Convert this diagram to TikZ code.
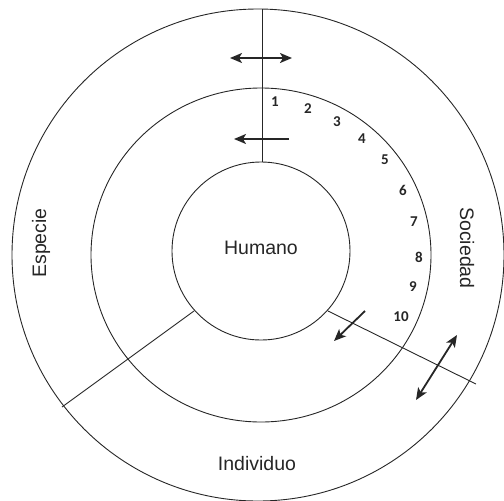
\documentclass[tikz,border=0pt]{standalone}
\usepackage{fontspec}
\setmainfont{Liberation Sans}
\newfontfamily\numfont{Carlito}
\usetikzlibrary{arrows.meta,positioning}
\tikzset{
  ring/.style={draw=black!85, line width=0.9pt},
  divider/.style={draw=black!85, line width=0.9pt},
  flow/.style={-{Stealth[length=12pt,width=10pt,inset=3pt]}, line width=1.8pt, black!85},
  biflow/.style={{Stealth[length=12pt,width=10pt,inset=3pt]}-{Stealth[length=12pt,width=10pt,inset=3pt]}, line width=1.8pt, black!85},
  ringtext/.style={font=\fontsize{19.5}{22}\selectfont, text=black!85},
  stepnum/.style={font=\numfont\bfseries\fontsize{15}{17}\selectfont, text=black!85}
}

\begin{document}
\begin{tikzpicture}[x=1pt,y=-1pt]
  \useasboundingbox (0,0) rectangle (504,501);
  % rings
  \draw[ring] (258,255) circle[radius=246];
  \draw[ring] (261,255) ellipse[x radius=170, y radius=167];
  \draw[ring] (261,251) circle[radius=89];
  % dividers
  \coordinate (top out) at (262,9);
  \coordinate (top in) at (262,162);
  \coordinate (left in) at (194,311);
  \coordinate (left out) at (62,407);
  \coordinate (right in) at (328,311);
  \coordinate (right out) at (476,384);
  \draw[divider] (top out) -- (top in);
  \draw[divider] (left in) -- (left out);
  \draw[divider] (right in) -- (right out);
  % labels
  \node[ringtext] (humano) at (261,248) {Humano};
  \node[ringtext, rotate=90] (especie) at (41,243) {Especie};
  \node[ringtext, rotate=-90] (sociedad) at (467,248) {Sociedad};
  \node[ringtext] (individuo) at (257,464) {Individuo};
  % steps
  \foreach \i/\x/\y in {1/275/102, 2/308/109, 3/337/122, 4/362/139, 5/385/160,
                        6/403/190, 7/414/222, 8/419/257, 9/413/287, 10/401/317}
    \node[stepnum] (n\i) at (\x,\y) {\i};
  % arrows
  \coordinate (a1) at (230,58);
  \coordinate (b1) at (292,58);
  \coordinate (a2) at (289,139);
  \coordinate (b2) at (234,139);
  \coordinate (a3) at (365,311);
  \coordinate (b3) at (334,341);
  \coordinate (a4) at (457,335);
  \coordinate (b4) at (416,400);
  \draw[biflow] (a1) -- (b1);
  \draw[flow] (a2) -- (b2);
  \draw[flow] (a3) -- (b3);
  \draw[biflow] (a4) -- (b4);
\end{tikzpicture}
\end{document}
